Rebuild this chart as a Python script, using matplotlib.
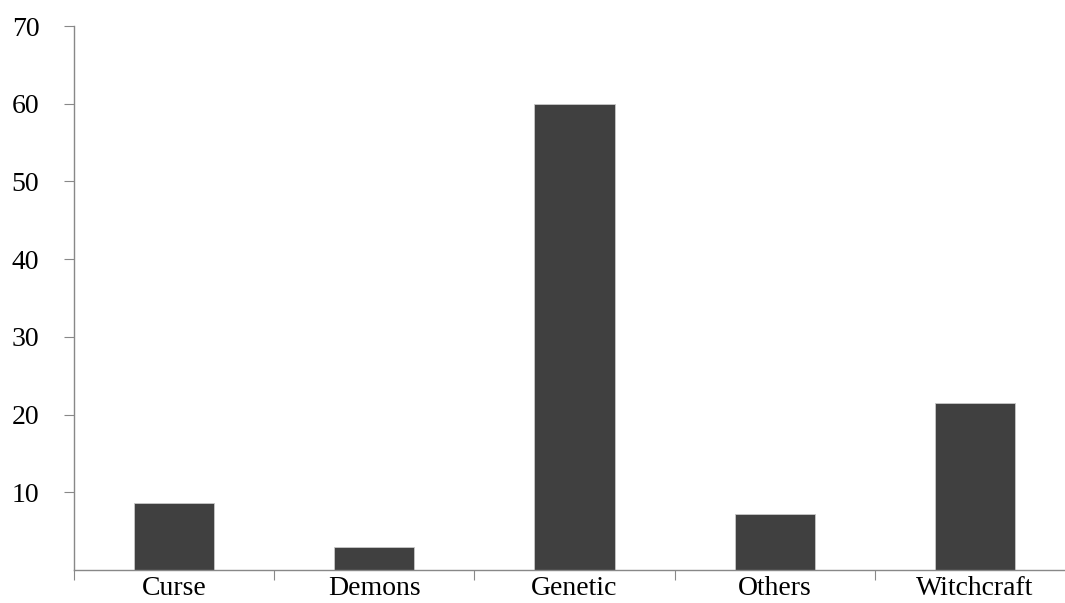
import matplotlib.pyplot as plt
import numpy as np

plt.rcParams['font.family'] = ['Liberation Serif', 'DejaVu Serif']

categories = ["Curse", "Demons", "Genetic", "Others", "Witchcraft"]
values = [8.6, 2.9, 60.0, 7.2, 21.5]
yticks = [10, 20, 30, 40, 50, 60, 70]

fig = plt.figure(figsize=(10.65, 6.03), dpi=100)
# axis spans past the right edge of the picture like the original
ax = fig.add_axes([74 / 1065, 33 / 603, 1001 / 1065, 544 / 603])

x = np.arange(len(categories))
ax.bar(x, values, width=0.4, color='#404040', edgecolor='#c8c8c8', linewidth=0.6)

ax.set_xlim(-0.5, len(categories) - 0.5)
ax.set_ylim(0, 70)

ax.set_yticks(yticks)
ax.set_yticklabels([str(t) for t in yticks], fontsize=20)
ax.tick_params(axis='y', direction='out', length=7, color='#888888', pad=18)

# category ticks sit between the bars, labels sit under the bars
ax.set_xticks(np.arange(len(categories) + 1) - 0.5)
ax.set_xticklabels([])
ax.set_xticks(x, minor=True)
ax.set_xticklabels(categories, minor=True, fontsize=20)
ax.tick_params(axis='x', which='major', direction='out', length=7, color='#888888')
ax.tick_params(axis='x', which='minor', length=0, pad=4)

for s in ['top', 'right']:
    ax.spines[s].set_visible(False)
for s in ['left', 'bottom']:
    ax.spines[s].set_color('#888888')
    ax.spines[s].set_linewidth(1.0)

fig.savefig("out.png", dpi=100)
